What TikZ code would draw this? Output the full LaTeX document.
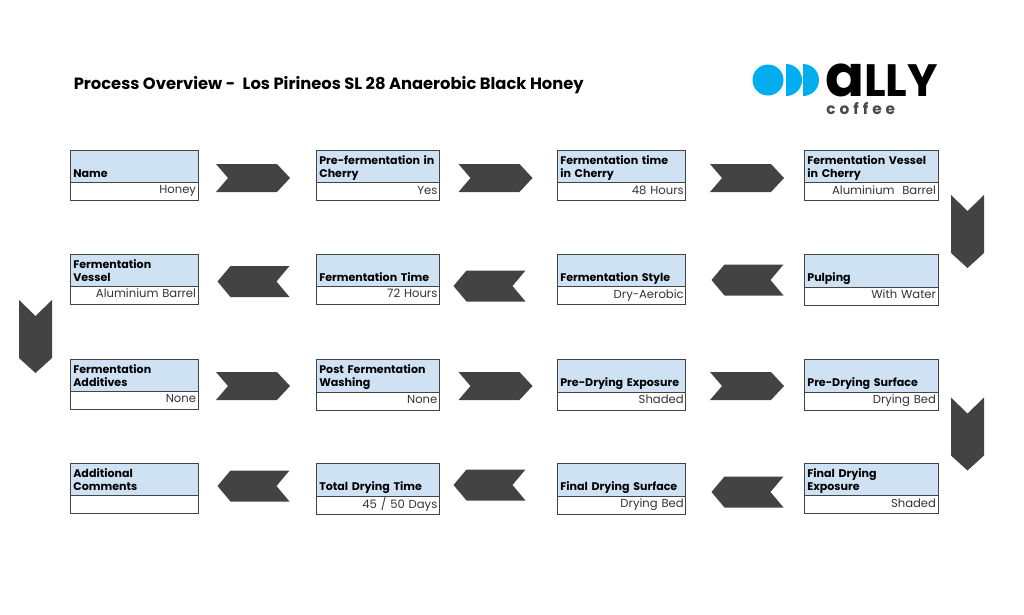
\documentclass[tikz,border=0pt]{standalone}
\usepackage{fontspec}
\setmainfont{Poppins}
\usetikzlibrary{positioning}
\definecolor{headblue}{HTML}{CFE2F3}
\definecolor{logoblue}{HTML}{00AEEF}
\definecolor{chevgray}{HTML}{434343}

\begin{document}
\begin{tikzpicture}[x=0.75pt, y=-0.75pt,
    head/.style={rectangle, draw=chevgray, line width=0.7pt, fill=headblue, anchor=north west, inner xsep=2.5pt, inner ysep=2pt, align=left, font=\fontsize{8.3}{10}\selectfont\bfseries, execute at begin node={\rule{0pt}{8.5pt}}, execute at end node={\rule[-1.5pt]{0pt}{1.5pt}}, outer sep=0pt},
    val/.style={rectangle, draw=chevgray, line width=0.7pt, anchor=north west, inner xsep=1.5pt, inner ysep=0pt, minimum height=13.5pt, align=right, font=\fontsize{8.7}{10}\selectfont, text=black!80, execute at begin node=\strut, outer sep=0pt},
    wA/.style={text width=91pt},
    wB/.style={text width=87.5pt},
    wC/.style={text width=91.5pt},
    wD/.style={text width=95.5pt},
    vA/.style={text width=93pt},
    vB/.style={text width=89.5pt},
    vC/.style={text width=93.5pt},
    vD/.style={text width=97.5pt},
    chevright/.pic={\fill[chevgray] (-37,-14) -- (24,-14) -- (37,0) -- (24,14) -- (-37,14) -- (-25,0) -- cycle;},
    chevleft/.pic={\fill[chevgray] (36,-15.5) -- (-23,-15.5) -- (-36,0) -- (-23,15.5) -- (36,15.5) -- (23,0) -- cycle;},
    chevdown/.pic={\fill[chevgray] (-16.5,-36.5) -- (0,-20.5) -- (16.5,-36.5) -- (16.5,21.5) -- (0,36.5) -- (-16.5,21.5) -- cycle;},
    ]
    \useasboundingbox (0,0) rectangle (1024,614);
    \node[anchor=west, inner sep=0pt, font=\fontsize{12.25}{14}\selectfont\bfseries] (title) at (73.5,85) {Process Overview -\hspace{3pt} Los Pirineos SL 28 Anaerobic Black Honey};

    % logo
    \fill[logoblue] (768,80) circle (15.5);
    \fill[logoblue] (786,64) arc[start angle=-90, end angle=90, radius=16] -- cycle;
    \fill[logoblue] (803,64) arc[start angle=-90, end angle=90, radius=16] -- cycle;
    \node[anchor=base west, inner sep=0pt, font=\fontsize{34}{34}\selectfont\bfseries] (ally) at (825,96) {\scalebox{1.27}{a}LLY};
    \node[anchor=base west, inner sep=0pt, text=black!72, font=\fontsize{11.5}{12}\selectfont\bfseries\addfontfeatures{LetterSpace=26}] (coffee) at (826,114) {coffee};

    % row 1
    \node[head, wA] (name) at (70,150) {\mbox{}\\Name};
    \node[val, vA] (nameV) at (name.south west) {Honey};
    \node[head, wB] (prefer) at (316,150) {Pre-fermentation in\\Cherry};
    \node[val, vB] (preferV) at (prefer.south west) {Yes};
    \node[head, wC] (fertime) at (557,150) {Fermentation time\\in Cherry};
    \node[val, vC] (fertimeV) at (fertime.south west) {48 Hours};
    \node[head, wD] (vessel) at (804,150) {Fermentation Vessel\\in Cherry};
    \node[val, vD] (vesselV) at (vessel.south west) {Aluminium\ \ Barrel\hspace{3pt}};

    % row 2
    \node[head, wA] (fvessel) at (70,254) {Fermentation\\Vessel};
    \node[val, vA] (fvesselV) at (fvessel.south west) {Aluminium Barrel};
    \node[head, wB] (ftime) at (316,254) {\mbox{}\\Fermentation Time};
    \node[val, vB] (ftimeV) at (ftime.south west) {72 Hours};
    \node[head, wC] (fstyle) at (557,254) {\mbox{}\\Fermentation Style};
    \node[val, vC] (fstyleV) at (fstyle.south west) {Dry-Aerobic};
    \node[head, wD] (pulp) at (804,254) {\mbox{}\\Pulping};
    \node[val, vD] (pulpV) at (pulp.south west) {With Water};

    % row 3
    \node[head, wA] (additive) at (70,359) {Fermentation\\Additives};
    \node[val, vA] (additiveV) at (additive.south west) {None};
    \node[head, wB] (wash) at (316,359) {Post Fermentation\\Washing};
    \node[val, vB] (washV) at (wash.south west) {None};
    \node[head, wC] (expo) at (557,359) {\mbox{}\\Pre-Drying Exposure};
    \node[val, vC] (expoV) at (expo.south west) {Shaded};
    \node[head, wD] (surf) at (804,359) {\mbox{}\\Pre-Drying Surface};
    \node[val, vD] (surfV) at (surf.south west) {Drying Bed};

    % row 4
    \node[head, wA] (comment) at (70,463) {Additional\\Comments};
    \node[val, vA] (commentV) at (comment.south west) {};
    \node[head, wB] (total) at (316,463) {\mbox{}\\Total Drying Time};
    \node[val, vB] (totalV) at (total.south west) {45 / 50 Days};
    \node[head, wC] (fsurf) at (557,463) {\mbox{}\\Final Drying Surface};
    \node[val, vC] (fsurfV) at (fsurf.south west) {Drying Bed};
    \node[head, wD] (fexpo) at (804,463) {Final Drying\\Exposure};
    \node[val, vD] (fexpoV) at (fexpo.south west) {Shaded};

    % chevrons
    \pic at (253,178) {chevright};
    \pic at (495.5,178) {chevright};
    \pic at (747,178) {chevright};
    \pic at (967.5,231.5) {chevdown};
    \pic at (747.5,280) {chevleft};
    \pic at (489.5,286) {chevleft};
    \pic at (253.5,281.5) {chevleft};
    \pic at (35.5,336.5) {chevdown};
    \pic at (253,386) {chevright};
    \pic at (495.5,386) {chevright};
    \pic at (747,386) {chevright};
    \pic at (967.5,434) {chevdown};
    \pic at (747.5,492) {chevleft};
    \pic at (489.5,485) {chevleft};
    \pic at (253.5,486) {chevleft};
\end{tikzpicture}
\end{document}
